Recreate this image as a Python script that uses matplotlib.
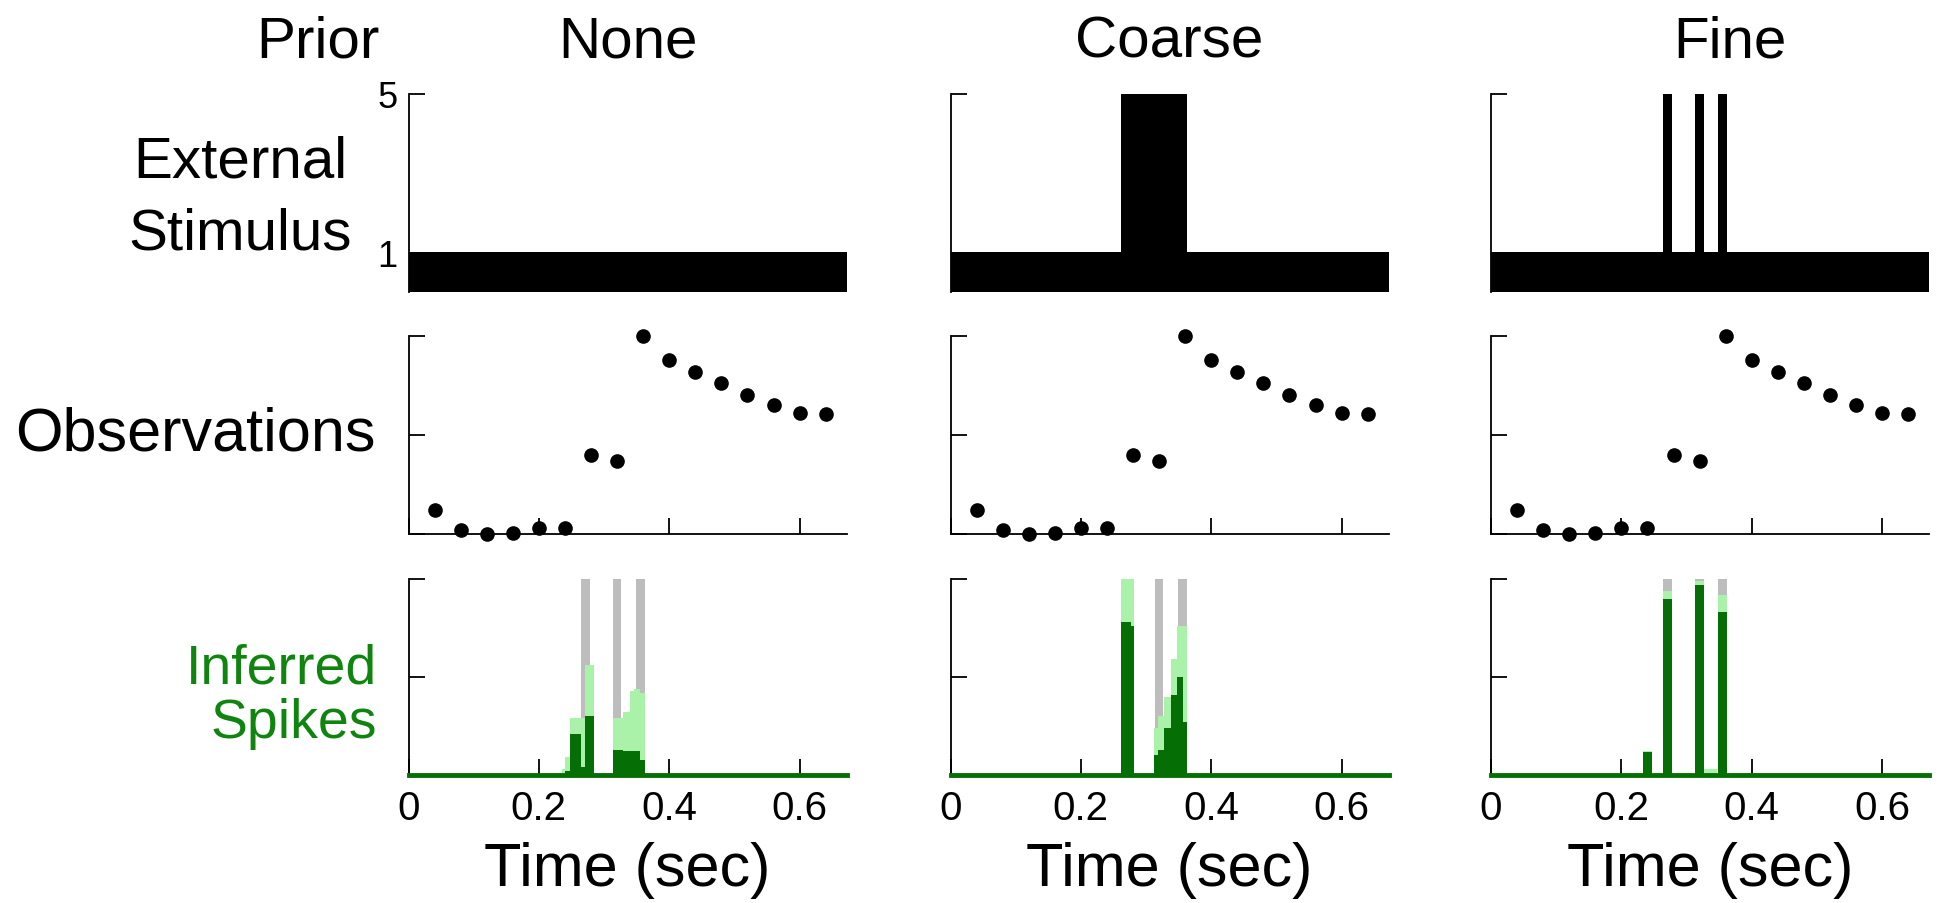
import matplotlib
matplotlib.use("Agg")
import matplotlib.pyplot as plt

plt.rcParams['font.family'] = ['Liberation Sans', 'DejaVu Sans']

priors = ["None", "Coarse", "Fine"]
t_end = 0.672

# stimulus intensity as steps (edges in sec, level per step)
stim_edges = {
    "None": [0, t_end],
    "Coarse": [0, 0.262, 0.3625, t_end],
    "Fine": [0, 0.2645, 0.2782, 0.3129, 0.3267, 0.3486, 0.3624, t_end],
}
stim_levels = {
    "None": [1],
    "Coarse": [1, 5, 1],
    "Fine": [1, 5, 1, 5, 1, 5, 1],
}

# fluorescence observations, one frame every 40 ms
obs_times = [0.04, 0.08, 0.12, 0.16, 0.20, 0.24, 0.28, 0.32,
             0.36, 0.40, 0.44, 0.48, 0.52, 0.56, 0.60, 0.64]
obs_values = [0.12, 0.02, 0.0, 0.005, 0.03, 0.03, 0.40, 0.37,
              1.0, 0.88, 0.82, 0.765, 0.70, 0.65, 0.61, 0.605]

# true spikes (start time, bin width)
true_spike_start = [0.2645, 0.3130, 0.3488]
true_spike_width = 0.0137

# inferred spike probability: bin start, bin end, MAP (dark), upper (light)
none_t0 = [0.2355, 0.2406, 0.2483, 0.2641, 0.2703, 0.3138, 0.3292, 0.3394, 0.3456, 0.3548]
none_t1 = [0.2406, 0.2483, 0.2641, 0.2703, 0.2841, 0.3292, 0.3394, 0.3456, 0.3548, 0.3625]
none_dark = [0.0, 0.02, 0.21, 0.04, 0.30, 0.13, 0.12, 0.12, 0.12, 0.077]
none_light = [0.03, 0.09, 0.29, 0.29, 0.56, 0.29, 0.32, 0.43, 0.44, 0.42]

coarse_t0 = [0.2619, 0.2772, 0.3116, 0.3177, 0.3269, 0.3382, 0.3474, 0.3566]
coarse_t1 = [0.2772, 0.2823, 0.3177, 0.3269, 0.3382, 0.3474, 0.3566, 0.3628]
coarse_dark = [0.78, 0.76, 0.10, 0.13, 0.24, 0.41, 0.50, 0.27]
coarse_light = [1.0, 1.0, 0.24, 0.30, 0.40, 0.59, 0.76, 0.76]

fine_t0 = [0.2337, 0.2644, 0.3129, 0.3267, 0.3486]
fine_t1 = [0.2475, 0.2782, 0.3267, 0.3460, 0.3624]
fine_dark = [0.115, 0.90, 0.97, 0.0, 0.83]
fine_light = [0.12, 0.94, 0.99, 0.03, 0.92]

inferred = {
    "None": (none_t0, none_t1, none_dark, none_light),
    "Coarse": (coarse_t0, coarse_t1, coarse_dark, coarse_light),
    "Fine": (fine_t0, fine_t1, fine_dark, fine_light),
}

dark_green = '#056f05'
light_green = '#aaf2aa'
spike_gray = '#bdbdbd'
label_green = '#0f850f'

W, H = 1938, 904
fig = plt.figure(figsize=(W / 100, H / 100), dpi=100)

col_left = [408.5, 950.5, 1491]
col_w = 438
row_top = [95, 337, 580]
row_h = [198, 198, 196]
title_x = [628, 1169, 1730]


def add_ax(x0, y0, w, h):
    return fig.add_axes([x0 / W, 1 - (y0 + h) / H, w / W, h / H])


def fig_text(x, y, s, **kw):
    return fig.text(x / W, 1 - y / H, s, **kw)


def style(ax):
    for s in ('top', 'right'):
        ax.spines[s].set_visible(False)
    for s in ('left', 'bottom'):
        ax.spines[s].set_linewidth(1.3)
    ax.tick_params(direction='in', length=11.5, width=1.3, labelsize=29)
    ax.set_xlim(0, t_end)


for c, prior in enumerate(priors):
    x0 = col_left[c]

    # --- stimulus ---
    ax = add_ax(x0, row_top[0], col_w, row_h[0])
    style(ax)
    ax.stairs(stim_levels[prior], stim_edges[prior], fill=True, baseline=0,
              color='black', zorder=3)
    ax.set_ylim(0, 5)
    ax.set_yticks([1, 5])
    ax.set_xticks([])
    ax.spines['bottom'].set_visible(False)
    ax.tick_params(axis='y', pad=8)
    if c == 0:
        ax.set_yticklabels(['1', '5'], fontsize=26)
    else:
        ax.set_yticklabels([])
    # the tick at level 1 sits inside the bar
    ax.yaxis.get_major_ticks()[0].tick1line.set_visible(False)
    fig_text(title_x[c], 57, prior, fontsize=42, ha='center', va='baseline')

    # --- observations ---
    ax = add_ax(x0, row_top[1], col_w, row_h[1])
    style(ax)
    ax.plot(obs_times, obs_values, 'o', color='black', markersize=9.5,
            clip_on=False, zorder=5)
    ax.set_ylim(0, 1)
    ax.set_yticks([0, 0.5, 1])
    ax.set_yticklabels([])
    ax.set_xticks([0, 0.2, 0.4, 0.6])
    ax.set_xticklabels([])

    # --- inferred spikes ---
    ax = add_ax(x0, row_top[2], col_w, row_h[2])
    style(ax)
    ax.bar(true_spike_start, [1] * len(true_spike_start), width=true_spike_width,
           align='edge', color=spike_gray, linewidth=0)
    t0, t1, dark, light = inferred[prior]
    widths = [b - a for a, b in zip(t0, t1)]
    ax.bar(t0, light, width=widths, align='edge', color=light_green, linewidth=0)
    ax.bar(t0, dark, width=widths, align='edge', color=dark_green, linewidth=0)
    ax.spines['bottom'].set_color(dark_green)
    ax.spines['bottom'].set_linewidth(3.5)
    ax.set_ylim(0, 1)
    ax.set_yticks([0, 0.5, 1])
    ax.set_yticklabels([])
    ax.set_xticks([0, 0.2, 0.4, 0.6])
    ax.set_xticklabels(['0', '0.2', '0.4', '0.6'])
    ax.tick_params(axis='x', pad=10, color='black')
    ax.set_xlabel('Time (sec)', fontsize=44, labelpad=10)

fig_text(318, 57, 'Prior', fontsize=42, ha='center', va='baseline')
fig_text(240, 178, 'External', fontsize=42, ha='center', va='baseline')
fig_text(240, 250, 'Stimulus', fontsize=42, ha='center', va='baseline')
fig_text(195, 435, 'Observations', fontsize=44, ha='center', va='center')
fig_text(377, 697, 'Inferred\nSpikes', fontsize=40, ha='right',
         va='center', linespacing=1.05, color=label_green)

fig.savefig('out.png', dpi=100)
